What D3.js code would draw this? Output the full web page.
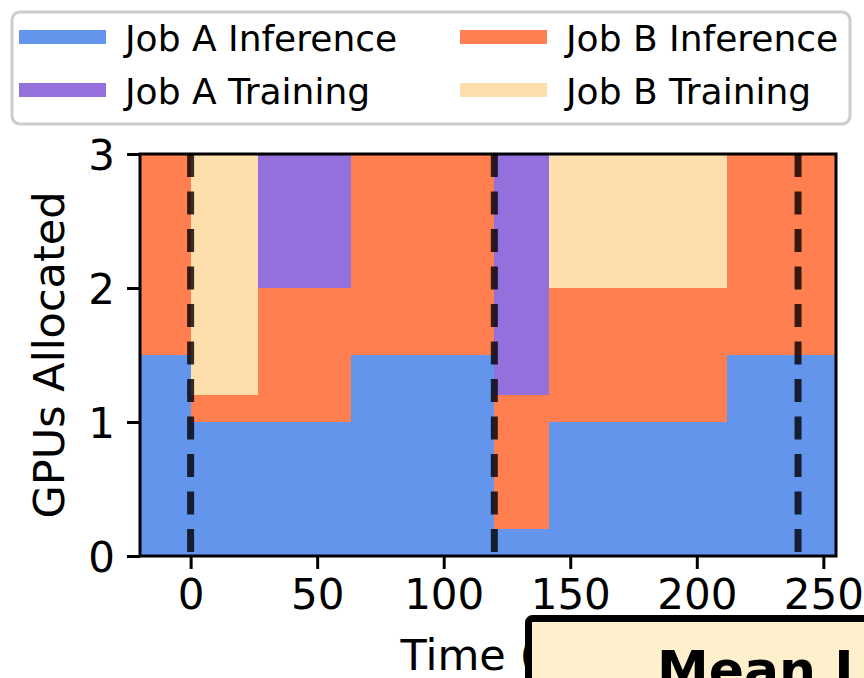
<!DOCTYPE html>
<html lang="en">
  <head>
    <title>GPUs Allocated over Time</title>
    <script src="https://d3js.org/d3.v7.min.js"></script>
    <style>
      body { margin: 0; background: #fff; }
      text { font-family: "DejaVu Sans", sans-serif; fill: #000; }
    </style>
  </head>
  <body>
    <div id="content"></div>
    <script>
      // segment boundaries (time) and GPUs per job inside each segment
      const times = [-20, 0, 26.5, 63.5, 120, 141.5, 212, 255];
      const jobAInference = [1.5, 1, 1, 1.5, 0.2, 1, 1.5];
      const jobBInference = [1.5, 0.2, 1, 1.5, 1.0, 1, 1.5];
      const jobATraining = [0, 0, 1, 0, 1.8, 0, 0];
      const jobBTraining = [0, 1.8, 0, 0, 0, 1, 0];
      const rescheduleTimes = [0, 120, 240];
      const xTicks = [0, 50, 100, 150, 200, 250];
      const yTicks = [0, 1, 2, 3];

      const seriesNames = ["Job A Inference", "Job B Inference", "Job A Training", "Job B Training"];
      const colors = {
        "Job A Inference": "cornflowerblue",
        "Job B Inference": "coral",
        "Job A Training": "mediumpurple",
        "Job B Training": "navajowhite",
      };

      const width = 864;
      const height = 678;
      const margin = { top: 154, right: 28, bottom: 122, left: 140 };

      const rows = times.slice(0, -1).map((t, i) => ({
        start: t,
        end: times[i + 1],
        "Job A Inference": jobAInference[i],
        "Job B Inference": jobBInference[i],
        "Job A Training": jobATraining[i],
        "Job B Training": jobBTraining[i],
      }));

      const svg = d3
        .select("#content")
        .append("svg")
        .attr("width", width)
        .attr("height", height);

      const x = d3
        .scaleLinear()
        .domain([-20, 255])
        .range([margin.left, width - margin.right]);

      const y = d3
        .scaleLinear()
        .domain([0, 3])
        .range([height - margin.bottom, margin.top]);

      const stacked = d3.stack().keys(seriesNames)(rows);

      svg
        .append("g")
        .attr("shape-rendering", "crispEdges")
        .selectAll("g")
        .data(stacked)
        .join("g")
        .attr("fill", (s) => colors[s.key])
        .selectAll("rect")
        .data((s) => s.filter((d) => d[1] > d[0]))
        .join("rect")
        .attr("x", (d) => Math.round(x(d.data.start)))
        .attr("width", (d) => Math.round(x(d.data.end)) - Math.round(x(d.data.start)))
        .attr("y", (d) => Math.round(y(d[1])))
        .attr("height", (d) => Math.round(y(d[0])) - Math.round(y(d[1])));

      // dashed lines at rescheduling points
      svg
        .append("g")
        .selectAll("line")
        .data(rescheduleTimes)
        .join("line")
        .attr("x1", (d) => x(d))
        .attr("x2", (d) => x(d))
        .attr("y1", y(3))
        .attr("y2", y(0))
        .attr("stroke", "#000")
        .attr("stroke-opacity", 0.8)
        .attr("stroke-width", 7)
        .attr("stroke-dasharray", "23,14.5");

      // frame
      svg
        .append("rect")
        .attr("x", x(-20))
        .attr("y", y(3))
        .attr("width", x(255) - x(-20))
        .attr("height", y(0) - y(3))
        .attr("fill", "none")
        .attr("stroke", "#000")
        .attr("stroke-width", 3);

      const xAxis = svg
        .append("g")
        .attr("transform", `translate(0, ${y(0)})`)
        .call(d3.axisBottom(x).tickValues(xTicks).tickSize(13).tickPadding(10));

      const yAxis = svg
        .append("g")
        .attr("transform", `translate(${x(-20)}, 0)`)
        .call(d3.axisLeft(y).tickValues(yTicks).tickSize(13).tickPadding(12).tickFormat(d3.format("d")));

      [xAxis, yAxis].forEach((ax) => {
        ax.select(".domain").remove();
        ax.selectAll(".tick line").attr("stroke", "#000").attr("stroke-width", 3);
        ax.selectAll("text")
          .style("font-size", "42px")
          .style("font-family", "DejaVu Sans, sans-serif")
          .attr("fill", "#000");
      });
      yAxis.selectAll("text").attr("dy", "0.36em");

      svg
        .append("text")
        .attr("transform", `translate(64, ${(y(0) + y(3)) / 2}) rotate(-90)`)
        .attr("text-anchor", "middle")
        .style("font-size", "43px")
        .text("GPUs Allocated");

      svg
        .append("text")
        .attr("x", (x(-20) + x(255)) / 2)
        .attr("y", 670)
        .attr("text-anchor", "middle")
        .style("font-size", "43px")
        .text("Time (s)");

      // legend
      const legend = svg.append("g");
      legend
        .append("rect")
        .attr("x", 12)
        .attr("y", 12)
        .attr("width", 838)
        .attr("height", 112)
        .attr("rx", 8)
        .attr("fill", "#fff")
        .attr("fill-opacity", 0.8)
        .attr("stroke", "#ccc")
        .attr("stroke-width", 3);

      // column 1 = Job A, column 2 = Job B
      const legendItems = legend
        .selectAll("g.item")
        .data(seriesNames)
        .join("g")
        .attr("class", "item")
        .attr("transform", (d) => {
          const col = d.startsWith("Job A") ? 19 : 460;
          const row = d.endsWith("Inference") ? 37 : 90;
          return `translate(${col}, ${row})`;
        });

      legendItems
        .append("rect")
        .attr("x", 0)
        .attr("y", -7)
        .attr("width", 87)
        .attr("height", 14)
        .attr("fill", (d) => colors[d]);

      legendItems
        .append("text")
        .attr("x", 106)
        .attr("y", 14)
        .style("font-size", "36px")
        .text((d) => d);

      // overlapping annotation box
      svg
        .append("rect")
        .attr("x", 528.5)
        .attr("y", 618.5)
        .attr("width", 400)
        .attr("height", 120)
        .attr("rx", 4)
        .attr("fill", "#fff0cd")
        .attr("stroke", "#000")
        .attr("stroke-width", 7);

      svg
        .append("text")
        .attr("x", 657)
        .attr("y", 688)
        .style("font-size", "52px")
        .style("font-weight", "bold")
        .text("Mean Latency");
    </script>
  </body>
</html>
